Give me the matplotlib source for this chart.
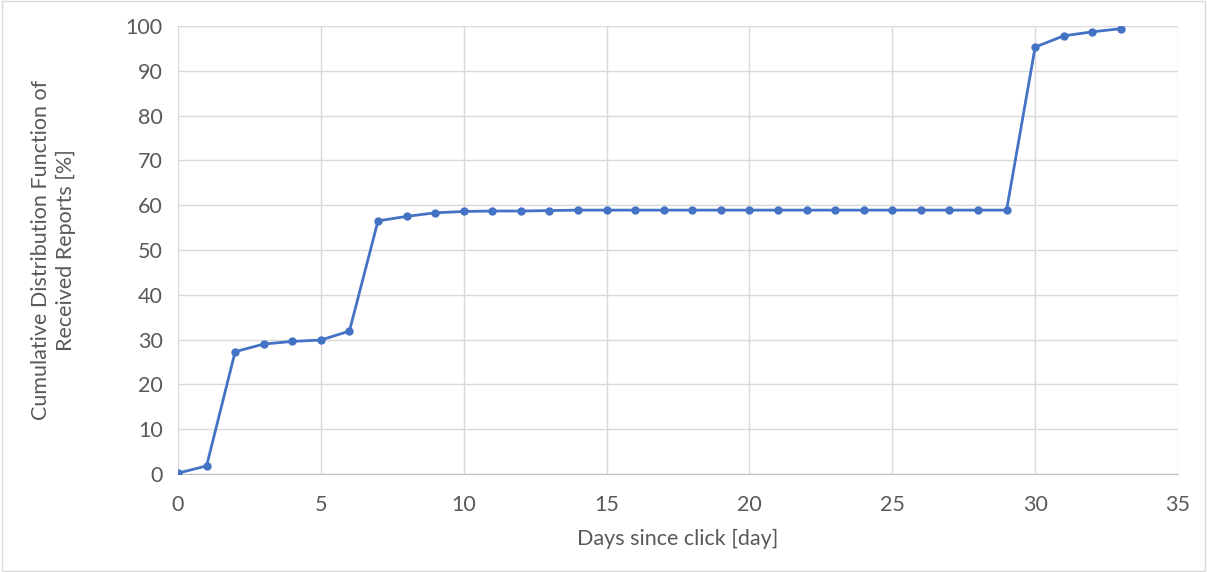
import matplotlib
matplotlib.use("Agg")
import matplotlib.pyplot as plt

days = list(range(34))
cdf = [0.2, 1.8, 27.3, 29.0, 29.6, 29.9, 31.9, 56.5, 57.5, 58.3, 58.6,
       58.7, 58.7, 58.8, 58.9, 58.9, 58.9, 58.9, 58.9, 58.9, 58.9, 58.9,
       58.9, 58.9, 58.9, 58.9, 58.9, 58.9, 58.9, 58.9, 95.3, 97.8, 98.7, 99.4]

plt.rcParams['font.family'] = ['Lato', 'DejaVu Sans']

fig = plt.figure(figsize=(12.07, 5.72), dpi=100)
ax = fig.add_axes([178 / 1207, 1 - 474 / 572, 1000 / 1207, 448 / 572])

ax.plot(days, cdf, color='#4472C4', lw=2, marker='o', ms=5, zorder=3)

ax.set_xlim(0, 35)
ax.set_ylim(0, 100)
ax.set_xticks(range(0, 36, 5))
ax.set_yticks(range(0, 101, 10))
ax.grid(True, color='#d9d9d9', lw=1)
ax.set_axisbelow(True)
for s in ['top', 'right', 'left']:
    ax.spines[s].set_visible(False)
ax.spines['bottom'].set_color('#bfbfbf')
ax.tick_params(length=0, labelsize=15.5, colors='#595959')
ax.tick_params(axis='x', pad=15)
ax.tick_params(axis='y', pad=11)
ax.set_xlabel('Days since click [day]', fontsize=15.5, color='#595959', labelpad=10)
ax.set_ylabel('Cumulative Distribution Function of\nReceived Reports [%]',
              fontsize=15.5, color='#595959', labelpad=36, linespacing=1.3)

fig.patches.append(plt.Rectangle((0.002, 0.002), 0.996, 0.996, transform=fig.transFigure,
                                 fill=False, edgecolor='#d9d9d9', lw=1))

fig.savefig('out.png', dpi=100)
